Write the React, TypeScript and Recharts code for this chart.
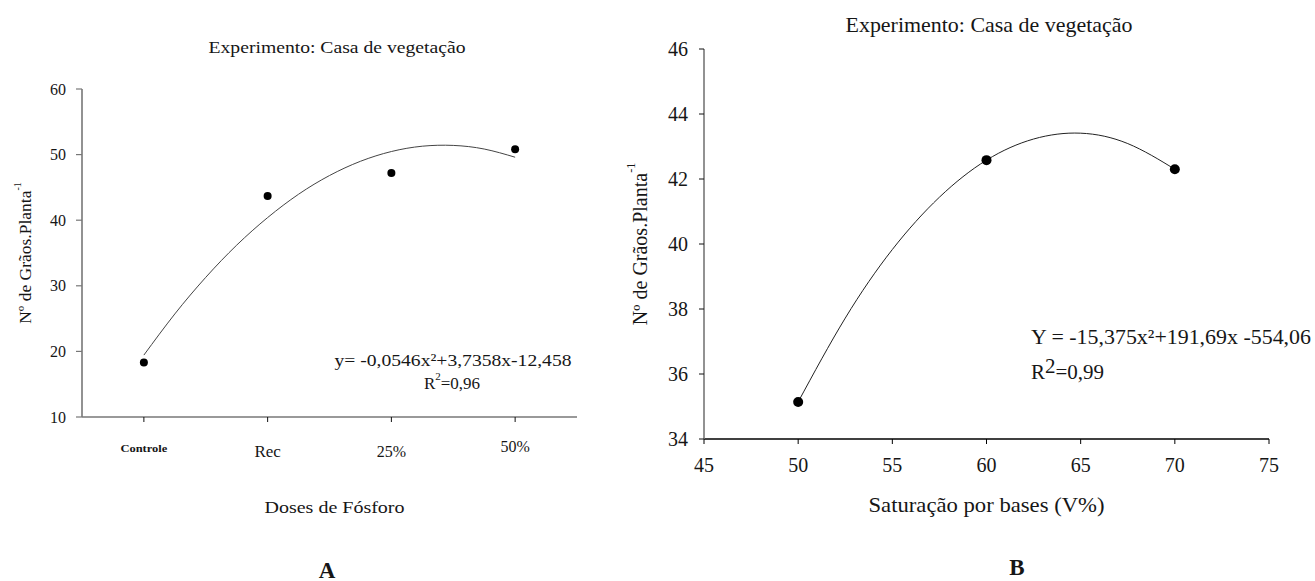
import React from 'react';
import { ComposedChart, Line, XAxis, YAxis, Label } from 'recharts';

// ---------- Panel A data ----------
const doseCategories = ['Controle', 'Rec', '25%', '50%'];
const doseX = [10, 20, 30, 40];
const graosA = [18.3, 43.7, 47.2, 50.8];
const fitAX = [10, 12.5, 15, 17.5, 20, 22.5, 25, 27.5, 30, 32.5, 35, 37.5, 40];
const fitAY = [19.44, 25.71, 31.29, 36.2, 40.4, 43.96, 46.81, 48.98, 50.47, 51.28, 51.4, 50.85, 49.6];
const yTicksA = [10, 20, 30, 40, 50, 60];
const titleA = 'Experimento: Casa de vegetação';
const xLabelA = 'Doses de Fósforo';
const eqA = 'y= -0,0546x²+3,7358x-12,458';
const r2A = '0,96';

// ---------- Panel B data ----------
const saturacaoX = [50, 60, 70];
const graosB = [35.14, 42.58, 42.3];
const fitBX = [50, 52.5, 55, 57.5, 60, 62.5, 65, 67.5, 70];
const fitBY = [35.14, 37.72, 39.83, 41.44, 42.58, 43.23, 43.41, 43.09, 42.3];
const yTicksB = [34, 36, 38, 40, 42, 44, 46];
const xTicksB = [45, 50, 55, 60, 65, 70, 75];
const titleB = 'Experimento: Casa de vegetação';
const xLabelB = 'Saturação por bases (V%)';
const eqB = 'Y = -15,375x²+191,69x -554,06';
const r2B = '0,99';

const yLabelMain = 'Nº de Grãos.Planta';
const yLabelSup = '-1';

const FONT = '"Liberation Serif", "Times New Roman", Times, serif';
const INK = '#161616';
const fontStyle = { fontFamily: FONT };

function buildRows(fx: number[], fy: number[], ox: number[], oy: number[]) {
  return fx.map((x, i) => {
    const k = ox.indexOf(x);
    return { x, fit: fy[i], obs: k >= 0 ? oy[k] : null };
  });
}

const rowsA = buildRows(fitAX, fitAY, doseX, graosA);
const rowsB = buildRows(fitBX, fitBY, saturacaoX, graosB);

const doseTickStyle: Record<string, { fontSize: number; dy: number; len?: number }> = {
  Controle: { fontSize: 11, dy: 24, len: 47 },
  Rec: { fontSize: 17, dy: 27.5 },
  '25%': { fontSize: 16, dy: 27 },
  '50%': { fontSize: 16, dy: 22.5 },
};

function DoseTick(props: any) {
  const { x, y, payload } = props;
  const k = doseX.indexOf(payload.value);
  const name = doseCategories[k];
  const s = doseTickStyle[name];
  return (
    <text
      x={x}
      y={y + s.dy}
      textAnchor="middle"
      dominantBaseline="central"
      style={fontStyle}
      fontSize={s.fontSize}
      fill={INK}
      fontWeight={name === 'Controle' ? 600 : 400}
      {...(s.len ? { textLength: s.len, lengthAdjust: 'spacingAndGlyphs' } : {})}
    >
      {name}
    </text>
  );
}

function SatTick(props: any) {
  const { x, y, payload } = props;
  return (
    <text x={x} y={y + 19} textAnchor="middle" dominantBaseline="central" style={fontStyle} fontSize={20} fill={INK}>
      {payload.value}
    </text>
  );
}

function makeYTick(fontSize: number) {
  return (props: any) => {
    const { x, y, payload } = props;
    return (
      <text x={x} y={y} textAnchor="end" dominantBaseline="central" style={fontStyle} fontSize={fontSize} fill={INK}>
        {payload.value}
      </text>
    );
  };
}

function makeYLabel(dx: number, fontSize: number, supSize: number) {
  return (props: any) => {
    const vb = props.viewBox;
    const cx = vb.x + dx;
    const cy = vb.y + vb.height / 2;
    return (
      <text
        x={cx}
        y={cy}
        textAnchor="middle"
        dominantBaseline="central"
        transform={`rotate(-90, ${cx}, ${cy})`}
        style={fontStyle}
        fontSize={fontSize}
        fill={INK}
      >
        {yLabelMain}
        <tspan fontSize={supSize} dy={-fontSize * 0.45}>{yLabelSup}</tspan>
      </text>
    );
  };
}

function makeXLabel(text: string, dx: number, dyc: number, fontSize: number, len?: number) {
  return (props: any) => {
    const vb = props.viewBox;
    const cx = vb.x + vb.width / 2 + dx;
    const cy = vb.y + dyc;
    return (
      <text
        x={cx}
        y={cy}
        textAnchor="middle"
        dominantBaseline="central"
        style={fontStyle}
        fontSize={fontSize}
        fill={INK}
        {...(len ? { textLength: len, lengthAdjust: 'spacingAndGlyphs' } : {})}
      >
        {text}
      </text>
    );
  };
}

const YTickA = makeYTick(16);
const YTickB = makeYTick(20);

function PanelA() {
  return (
    <ComposedChart width={600} height={581} data={rowsA} margin={{ top: 89, right: 23, bottom: 104, left: 22 }} style={fontStyle}>
      <XAxis
        dataKey="x"
        type="number"
        domain={[5, 45]}
        ticks={doseX}
        allowDataOverflow
        height={60}
        axisLine={{ stroke: '#777', strokeWidth: 1.6 }}
        tickLine={{ stroke: '#111', strokeWidth: 1 }}
        tickSize={5}
        tick={<DoseTick />}
      >
        <Label content={makeXLabel(xLabelA, 5, 90, 17, 140)} />
      </XAxis>
      <YAxis
        type="number"
        domain={[10, 60]}
        ticks={yTicksA}
        width={60}
        axisLine={{ stroke: '#777', strokeWidth: 1.6 }}
        tickLine={{ stroke: '#777', strokeWidth: 1.2 }}
        tickSize={6}
        tickMargin={10}
        tick={<YTickA />}
      >
        <Label content={makeYLabel(3, 17.5, 10)} />
      </YAxis>
      <Line
        dataKey="fit"
        type="natural"
        stroke="#444"
        strokeWidth={1}
        dot={false}
        activeDot={false}
        isAnimationActive={false}
      />
      <Line
        dataKey="obs"
        stroke="none"
        dot={{ r: 4, fill: '#000', stroke: '#000', strokeWidth: 0 }}
        activeDot={false}
        isAnimationActive={false}
      />
    </ComposedChart>
  );
}

function PanelB() {
  return (
    <ComposedChart width={715} height={581} data={rowsB} margin={{ top: 49, right: 46, bottom: 92, left: 44 }} style={fontStyle}>
      <XAxis
        dataKey="x"
        type="number"
        domain={[45, 75]}
        ticks={xTicksB}
        height={50}
        axisLine={{ stroke: '#000', strokeWidth: 1.4 }}
        tickLine={{ stroke: '#000', strokeWidth: 1 }}
        tickSize={5}
        tick={<SatTick />}
      >
        <Label content={makeXLabel(xLabelB, 0, 66, 21, 236)} />
      </XAxis>
      <YAxis
        type="number"
        domain={[34, 46]}
        ticks={yTicksB}
        width={60}
        axisLine={{ stroke: '#777', strokeWidth: 1.6 }}
        tickLine={{ stroke: '#111', strokeWidth: 1 }}
        tickSize={5}
        tickMargin={11}
        tick={<YTickB />}
      >
        <Label content={makeYLabel(-4, 20, 12)} />
      </YAxis>
      <Line
        dataKey="fit"
        type="natural"
        stroke="#222"
        strokeWidth={1}
        dot={false}
        activeDot={false}
        isAnimationActive={false}
      />
      <Line
        dataKey="obs"
        stroke="none"
        dot={{ r: 5, fill: '#000', stroke: '#000', strokeWidth: 0 }}
        activeDot={false}
        isAnimationActive={false}
      />
    </ComposedChart>
  );
}

export default function App() {
  return (
    <div style={{ position: 'absolute', left: 0, top: 0, width: 1315, height: 581, background: '#fff', overflow: 'hidden', fontFamily: FONT }}>
      <div style={{ position: 'absolute', left: 0, top: 0 }}>
        <PanelA />
      </div>
      <div style={{ position: 'absolute', left: 600, top: 0 }}>
        <PanelB />
      </div>
      <svg
        width={1315}
        height={581}
        style={{ position: 'absolute', left: 0, top: 0, pointerEvents: 'none', fontFamily: FONT }}
        fill={INK}
      >
        <text x={337} y={47} textAnchor="middle" dominantBaseline="central" fontSize={17} textLength={257} lengthAdjust="spacingAndGlyphs">
          {titleA}
        </text>
        <text x={453} y={360} textAnchor="middle" dominantBaseline="central" fontSize={17} textLength={237} lengthAdjust="spacingAndGlyphs">
          {eqA}
        </text>
        <text x={452} y={383} textAnchor="middle" dominantBaseline="central" fontSize={17}>
          R<tspan fontSize={11} dy={-7}>2</tspan>
          <tspan dy={7}>={r2A}</tspan>
        </text>
        <text x={327} y={570} textAnchor="middle" dominantBaseline="central" fontSize={23} fontWeight="bold">
          A
        </text>

        <text x={989} y={25} textAnchor="middle" dominantBaseline="central" fontSize={21} textLength={287} lengthAdjust="spacingAndGlyphs">
          {titleB}
        </text>
        <text x={1031} y={337} textAnchor="start" dominantBaseline="central" fontSize={21} textLength={280} lengthAdjust="spacingAndGlyphs">
          {eqB}
        </text>
        <text x={1031} y={372} textAnchor="start" dominantBaseline="central" fontSize={21}>
          R<tspan dy={-6}>2</tspan>
          <tspan dy={6}>={r2B}</tspan>
        </text>
        <text x={1017} y={567} textAnchor="middle" dominantBaseline="central" fontSize={23} fontWeight="bold">
          B
        </text>
      </svg>
    </div>
  );
}
